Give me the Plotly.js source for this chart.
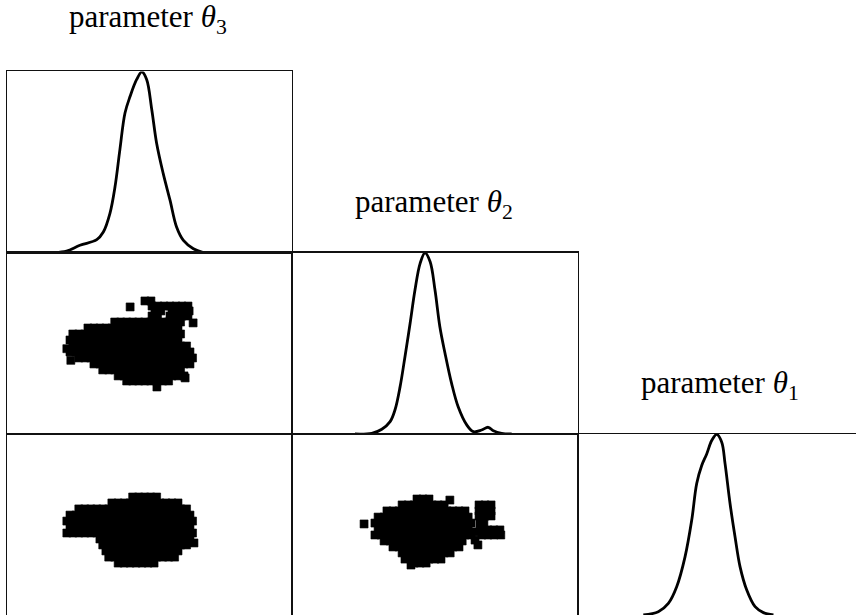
<!DOCTYPE html>
<html><head><meta charset="utf-8">
<script src="https://cdn.plot.ly/plotly-3.0.1.min.js"></script>
<style>html,body{margin:0;padding:0;background:#fff}#chart{width:856px;height:615px}</style>
</head><body><div id="chart"></div>
<script>
// Parameter titles
const paramTitles = ['parameter <i>θ</i><sub>3</sub>', 'parameter <i>θ</i><sub>2</sub>', 'parameter <i>θ</i><sub>1</sub>'];

// Marginal densities (parameter value, normalised density)
const theta3_density_x = [16.8, 20.9, 25.6, 31.5, 33.8, 36.1, 37.9, 39.6, 41.4, 43.2, 45.5, 47.3, 49.0, 50.8, 52.5, 54.8, 57.2, 59.5, 61.9, 65.4, 68.9];
const theta3_density_y = [0, 0.008, 0.040, 0.071, 0.113, 0.215, 0.363, 0.567, 0.771, 0.863, 0.956, 0.998, 0.956, 0.789, 0.604, 0.437, 0.289, 0.141, 0.067, 0.021, 0];

const theta2_density_x = [22.0, 27.9, 31.4, 34.3, 36.0, 37.8, 39.5, 41.3, 43.0, 44.8, 46.5, 48.3, 50.0, 51.7, 53.5, 55.8, 58.1, 61.1, 63.4, 66.3, 68.6, 70.4, 73.3, 76.8];
const theta2_density_y = [0, 0.004, 0.026, 0.068, 0.132, 0.261, 0.426, 0.61, 0.793, 0.94, 0.998, 0.949, 0.793, 0.591, 0.445, 0.279, 0.15, 0.05, 0.013, 0.022, 0.037, 0.018, 0.004, 0];

const theta1_density_x = [23.5, 28.9, 32.5, 35.5, 38.5, 40.9, 42.7, 44.5, 46.3, 48.1, 49.9, 51.7, 52.9, 54.7, 56.5, 58.3, 60.7, 63.7, 66.7, 70.3];
const theta1_density_y = [0, 0.018, 0.064, 0.156, 0.321, 0.523, 0.726, 0.826, 0.89, 0.964, 0.998, 0.955, 0.836, 0.615, 0.431, 0.266, 0.138, 0.046, 0.013, 0];

// Posterior samples, grouped by shared y value: [y, [x values]]
// theta3 (x) vs theta2 (y)
const theta3_theta2_rows = [
  [73.3, [48.4, 50.5]],
  [70.5, [50.9, 53.0, 55.1, 57.2, 59.3, 61.4, 63.5]],
  [70.0, [43.2]],
  [67.8, [51.9, 54.0, 57.9, 60.0, 62.1, 63.9]],
  [65.0, [50.9, 52.8, 57.2, 59.3, 61.4, 63.5]],
  [61.7, [37.8, 39.9, 42.0, 44.1, 46.2, 48.3, 50.4, 52.5, 54.6, 56.7, 58.8, 60.9]],
  [61.2, [65.3]],
  [58.4, [28.4, 30.5, 32.6, 34.7, 36.8, 39.0, 41.1, 43.2, 45.3, 47.4, 49.5, 51.6, 53.7, 55.8, 57.9, 60.0]],
  [55.1, [23.1, 25.2, 27.3, 29.4, 31.5, 33.6, 35.7, 37.8, 39.9, 42.0, 44.1, 46.2, 48.3, 50.4, 52.5, 54.6, 56.7, 58.8, 60.9]],
  [51.8, [22.1, 24.2, 26.3, 28.4, 30.5, 32.6, 34.7, 36.8, 39.0, 41.1, 43.2, 45.3, 47.4, 49.5, 51.6, 53.7, 55.8, 57.9, 60.0]],
  [48.5, [23.1, 25.2, 27.3, 29.4, 31.5, 33.6, 35.7, 37.8, 39.9, 42.0, 44.1, 46.2, 48.3, 50.4, 52.5, 54.6, 56.7, 58.8, 60.9, 63.0]],
  [47.0, [21.0]],
  [45.2, [22.1, 24.2, 26.3, 28.4, 30.5, 32.6, 34.7, 36.8, 39.0, 41.1, 43.2, 45.3, 47.4, 49.5, 51.6, 53.7, 55.8, 57.9, 60.0, 62.1, 64.2]],
  [41.9, [25.2, 27.3, 29.4, 31.5, 33.6, 35.7, 37.8, 39.9, 42.0, 44.1, 46.2, 48.3, 50.4, 52.5, 54.6, 56.7, 58.8, 60.9, 63.0, 65.1]],
  [40.6, [22.4]],
  [38.6, [30.5, 32.6, 34.7, 36.8, 39.0, 41.1, 43.2, 45.3, 47.4, 49.5, 51.6, 53.7, 55.8, 57.9, 60.0, 62.1, 64.2]],
  [35.3, [33.6, 35.7, 37.8, 39.9, 42.0, 44.1, 46.2, 48.3, 50.4, 52.5, 54.6, 56.7, 58.8, 60.9]],
  [32.0, [39.0, 41.1, 43.2, 45.3, 47.4, 49.5, 51.6, 53.7, 55.8, 57.9, 60.0, 62.1]],
  [30.9, [62.5]],
  [29.2, [42.0, 44.1, 46.2, 48.3, 50.4, 52.5, 54.6, 56.7]],
  [25.9, [52.6]]
];

// theta3 (x) vs theta1 (y)
const theta3_theta1_rows = [
  [65.2, [44.1, 46.2, 48.3, 50.4, 52.5]],
  [61.9, [36.8, 39.0, 41.1, 43.2, 45.3, 47.4, 49.5, 51.6, 53.7, 55.8, 57.9, 60.0]],
  [58.6, [25.2, 27.3, 29.4, 31.5, 33.6, 35.7, 37.8, 39.9, 42.0, 44.1, 46.2, 48.3, 50.4, 52.5, 54.6, 56.7, 58.8, 60.9, 63.0]],
  [55.2, [22.1, 24.2, 26.3, 28.4, 30.5, 32.6, 34.7, 36.8, 39.0, 41.1, 43.2, 45.3, 47.4, 49.5, 51.6, 53.7, 55.8, 57.9, 60.0, 62.1, 64.2]],
  [51.9, [21.0, 23.1, 25.2, 27.3, 29.4, 31.5, 33.6, 35.7, 37.8, 39.9, 42.0, 44.1, 46.2, 48.3, 50.4, 52.5, 54.6, 56.7, 58.8, 60.9, 63.0, 65.1]],
  [48.6, [22.1, 24.2, 26.3, 28.4, 30.5, 32.6, 34.7, 36.8, 39.0, 41.1, 43.2, 45.3, 47.4, 49.5, 51.6, 53.7, 55.8, 57.9, 60.0, 62.1, 64.2]],
  [45.3, [21.0, 23.1, 25.2, 27.3, 29.4, 31.5, 33.6, 35.7, 37.8, 39.9, 42.0, 44.1, 46.2, 48.3, 50.4, 52.5, 54.6, 56.7, 58.8, 60.9, 63.0, 65.1]],
  [42.0, [32.6, 34.7, 36.8, 39.0, 41.1, 43.2, 45.3, 47.4, 49.5, 51.6, 53.7, 55.8, 57.9, 60.0, 62.1, 64.2]],
  [39.8, [65.6]],
  [38.7, [33.6, 35.7, 37.8, 39.9, 42.0, 44.1, 46.2, 48.3, 50.4, 52.5, 54.6, 56.7, 58.8, 60.9, 63.0]],
  [35.4, [34.7, 36.8, 39.0, 41.1, 43.2, 45.3, 47.4, 49.5, 51.6, 53.7, 55.8, 57.9, 60.0]],
  [32.0, [35.7, 37.8, 39.9, 42.0, 44.1, 46.2, 48.3, 50.4, 52.5, 54.6, 56.7, 58.8]],
  [28.7, [39.0, 41.1, 43.2, 45.3, 47.4, 49.5, 51.6]]
];

// theta2 (x) vs theta1 (y)
const theta2_theta1_rows = [
  [64.1, [43.7, 45.8, 47.9]],
  [63.5, [55.2]],
  [60.8, [38.5, 40.6, 42.7, 44.8, 46.9, 49.0, 51.1, 53.2, 65.4, 67.5, 69.6]],
  [57.5, [33.2, 35.3, 37.4, 39.5, 41.6, 43.7, 45.8, 47.9, 50.0, 52.1, 54.2, 56.3, 58.4, 60.5, 65.4, 67.5, 69.6]],
  [54.7, [65.4, 67.5, 69.6]],
  [54.1, [30.1, 32.2, 34.3, 36.4, 38.5, 40.6, 42.7, 44.8, 46.9, 49.0, 51.1, 53.2, 55.3, 57.4, 59.5, 61.6]],
  [51.4, [67.1]],
  [50.8, [29.0, 31.1, 33.2, 35.3, 37.4, 39.5, 41.6, 43.7, 45.8, 47.9, 50.0, 52.1, 54.2, 56.3, 58.4, 60.5, 62.6]],
  [50.3, [25.2, 65.7]],
  [47.5, [30.1, 32.2, 34.3, 36.4, 38.5, 40.6, 42.7, 44.8, 46.9, 49.0, 51.1, 53.2, 55.3, 57.4, 59.5, 61.6]],
  [47.0, [66.4, 68.5, 70.6, 72.7]],
  [45.9, [64.0]],
  [44.2, [29.0, 31.1, 33.2, 35.3, 37.4, 39.5, 41.6, 43.7, 45.8, 47.9, 50.0, 52.1, 54.2, 56.3, 58.4, 60.5, 62.6, 66.4, 68.5, 70.6, 73.0]],
  [41.4, [64.0]],
  [40.9, [32.2, 34.3, 36.4, 38.5, 40.6, 42.7, 44.8, 46.9, 49.0, 51.1, 53.2, 55.3, 57.4, 59.5]],
  [38.7, [65.0]],
  [37.6, [35.3, 37.4, 39.5, 41.6, 43.7, 45.8, 47.9, 50.0, 52.1, 54.2, 56.3, 58.4]],
  [34.3, [38.5, 40.6, 42.7, 44.8, 46.9, 49.0, 51.1, 53.2, 55.3]],
  [30.9, [39.5, 41.6, 43.7, 45.8, 47.9, 50.0, 52.1]],
  [28.7, [42.7, 44.8, 46.9]],
  [27.6, [41.6]]
];

function rowsToXY(rows) {
  const x = [], y = [];
  rows.forEach(function (r) { r[1].forEach(function (xv) { x.push(xv); y.push(r[0]); }); });
  return { x: x, y: y };
}

const curveLine = { color: '#000', width: 2.8, shape: 'spline', smoothing: 1 };
const sampleMarker = { symbol: 'square', size: 8, color: '#000', line: { color: '#000', width: 0.6 } };

const s32 = rowsToXY(theta3_theta2_rows);
const s31 = rowsToXY(theta3_theta1_rows);
const s21 = rowsToXY(theta2_theta1_rows);

const traces = [
  { type: 'scatter', mode: 'lines', x: theta3_density_x, y: theta3_density_y, xaxis: 'x', yaxis: 'y', line: curveLine, hoverinfo: 'skip' },
  { type: 'scatter', mode: 'markers', x: s32.x, y: s32.y, xaxis: 'x2', yaxis: 'y2', marker: sampleMarker, hoverinfo: 'skip' },
  { type: 'scatter', mode: 'lines', x: theta2_density_x, y: theta2_density_y, xaxis: 'x3', yaxis: 'y3', line: curveLine, hoverinfo: 'skip' },
  { type: 'scatter', mode: 'markers', x: s31.x, y: s31.y, xaxis: 'x4', yaxis: 'y4', marker: sampleMarker, hoverinfo: 'skip' },
  { type: 'scatter', mode: 'markers', x: s21.x, y: s21.y, xaxis: 'x5', yaxis: 'y5', marker: sampleMarker, hoverinfo: 'skip' },
  { type: 'scatter', mode: 'lines', x: theta1_density_x, y: theta1_density_y, xaxis: 'x6', yaxis: 'y6', line: curveLine, hoverinfo: 'skip' }
];

const colX = [[0.00818, 0.34112], [0.34112, 0.67523], [0.67523, 1]];
const rowY = [[0.58943, 0.88374], [0.29431, 0.58943], [0, 0.29431]];

function ax(domain, range, anchor, extra) {
  return Object.assign({
    domain: domain, range: range, anchor: anchor,
    showline: true, linecolor: '#111', linewidth: 1.3, mirror: true,
    showgrid: false, zeroline: false, showticklabels: false, ticks: '', fixedrange: true
  }, extra || {});
}

const titleFont = { family: 'Liberation Serif, DejaVu Serif, serif', size: 31, color: '#000' };

const layout = {
  width: 856, height: 615,
  margin: { l: 0, r: 0, t: 0, b: 0 },
  paper_bgcolor: '#fff', plot_bgcolor: '#fff',
  showlegend: false,
  xaxis:  ax(colX[0], [0, 100], 'y'),
  yaxis:  ax(rowY[0], [0, 1], 'x'),
  xaxis2: ax(colX[0], [0, 100], 'y2'),
  yaxis2: ax(rowY[1], [0, 100], 'x2'),
  xaxis3: ax(colX[1], [0, 100], 'y3'),
  yaxis3: ax(rowY[1], [0, 1], 'x3'),
  xaxis4: ax(colX[0], [0, 100], 'y4', { side: 'top', mirror: false }),
  yaxis4: ax(rowY[2], [0, 100], 'x4'),
  xaxis5: ax(colX[1], [0, 100], 'y5', { side: 'top', mirror: false }),
  yaxis5: ax(rowY[2], [0, 100], 'x5'),
  xaxis6: ax(colX[2], [0, 100], 'y6', { side: 'top', mirror: false }),
  yaxis6: ax(rowY[2], [0, 1], 'x6', { mirror: false }),
  annotations: [
    { text: paramTitles[0], xref: 'paper', yref: 'paper', x: 148 / 856, y: 0.9691, xanchor: 'center', yanchor: 'middle', showarrow: false, font: titleFont },
    { text: paramTitles[1], xref: 'paper', yref: 'paper', x: 434 / 856, y: 0.6683, xanchor: 'center', yanchor: 'middle', showarrow: false, font: titleFont },
    { text: paramTitles[2], xref: 'paper', yref: 'paper', x: 720 / 856, y: 0.374, xanchor: 'center', yanchor: 'middle', showarrow: false, font: titleFont }
  ]
};

Plotly.newPlot('chart', traces, layout, { displayModeBar: false, staticPlot: true });
</script></body></html>
